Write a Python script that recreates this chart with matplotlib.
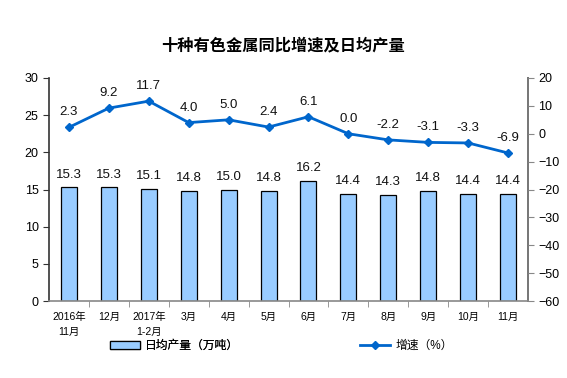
import matplotlib
matplotlib.use("Agg")
import matplotlib.pyplot as plt
from matplotlib.lines import Line2D
from matplotlib.patches import Patch

plt.rcParams['font.family'] = ['Liberation Sans', 'Noto Sans CJK SC', 'DejaVu Sans']

categories = ["2016年\n11月", "12月", "2017年\n1-2月", "3月", "4月", "5月", "6月",
              "7月", "8月", "9月", "10月", "11月"]
daily_output = [15.3, 15.3, 15.1, 14.8, 15.0, 14.8, 16.2, 14.4, 14.3, 14.8, 14.4, 14.4]
growth = [2.3, 9.2, 11.7, 4.0, 5.0, 2.4, 6.1, 0.0, -2.2, -3.1, -3.3, -6.9]
left_ticks = [0, 5, 10, 15, 20, 25, 30]
right_ticks = [-60, -50, -40, -30, -20, -10, 0, 10, 20]

title = "十种有色金属同比增速及日均产量"
bar_label = "日均产量（万吨）"
line_label = "增速（%）"

W, H = 567, 378
fig = plt.figure(figsize=(W / 100, H / 100), dpi=100)
ax = fig.add_axes([49 / W, 1 - 301 / H, (528 - 49) / W, (301 - 78) / H])
ax2 = ax.twinx()

x = list(range(len(categories)))
bar_color = "#99CCFF"
line_color = "#0066CC"

ax.bar(x, daily_output, width=0.4, color=bar_color, edgecolor="black", linewidth=0.9, zorder=2)
for xi, v in zip(x, daily_output):
    ax.text(xi, v + 0.9, f"{v:.1f}", ha="center", va="bottom", fontsize=9.5, color="#111111")

ax2.plot(x, growth, color=line_color, linewidth=2, marker="D", markersize=4.5, zorder=3)
for xi, v in zip(x, growth):
    ax2.text(xi, v + 3.2, f"{v:.1f}", ha="center", va="bottom", fontsize=9.5, color="#111111")

ax.set_xlim(-0.5, len(categories) - 0.5)
ax.set_ylim(0, 30)
ax.set_yticks(left_ticks)
ax2.set_ylim(-60, 20)
ax2.set_yticks(right_ticks)

ax.set_xticks(x)
ax.set_xticklabels(categories, fontsize=7.5, linespacing=1.6)
ax.tick_params(axis="x", length=0, pad=8)
ax.set_xticks([i + 0.5 for i in x[:-1]], minor=True)
ax.tick_params(axis="x", which="minor", length=4, direction="out", color="#888888")

ax.tick_params(axis="y", labelsize=9, length=4, direction="out", color="#333333")
ax2.tick_params(axis="y", labelsize=9, length=4, direction="out", color="#888888")

ax.spines["top"].set_visible(False)
ax2.spines["top"].set_visible(False)
ax.spines["left"].set_color("#333333")
ax.spines["bottom"].set_color("#888888")
ax2.spines["right"].set_color("#888888")
ax2.spines["left"].set_visible(False)
ax2.spines["bottom"].set_visible(False)
for s in ax.spines.values():
    s.set_linewidth(1.2)
for s in ax2.spines.values():
    s.set_linewidth(1.2)

fig.text(0.5, 1 - 45 / H, title, ha="center", va="center", fontsize=11.7, fontweight="bold")

h1 = Patch(facecolor=bar_color, edgecolor="black", linewidth=0.9)
h2 = Line2D([0], [0], color=line_color, linewidth=2, marker="D", markersize=4.5)
leg1 = fig.legend([h1], [bar_label], loc="center left", bbox_to_anchor=(105 / W, 1 - 346 / H),
                  frameon=False, fontsize=8.5, handlelength=2.6, handletextpad=0.4, borderaxespad=0)
leg2 = fig.legend([h2], [line_label], loc="center left", bbox_to_anchor=(355 / W, 1 - 346 / H),
                  frameon=False, fontsize=8.5, handlelength=2.6, handletextpad=0.4, borderaxespad=0)
fig.add_artist(leg1)

fig.savefig("out.png", dpi=100)
